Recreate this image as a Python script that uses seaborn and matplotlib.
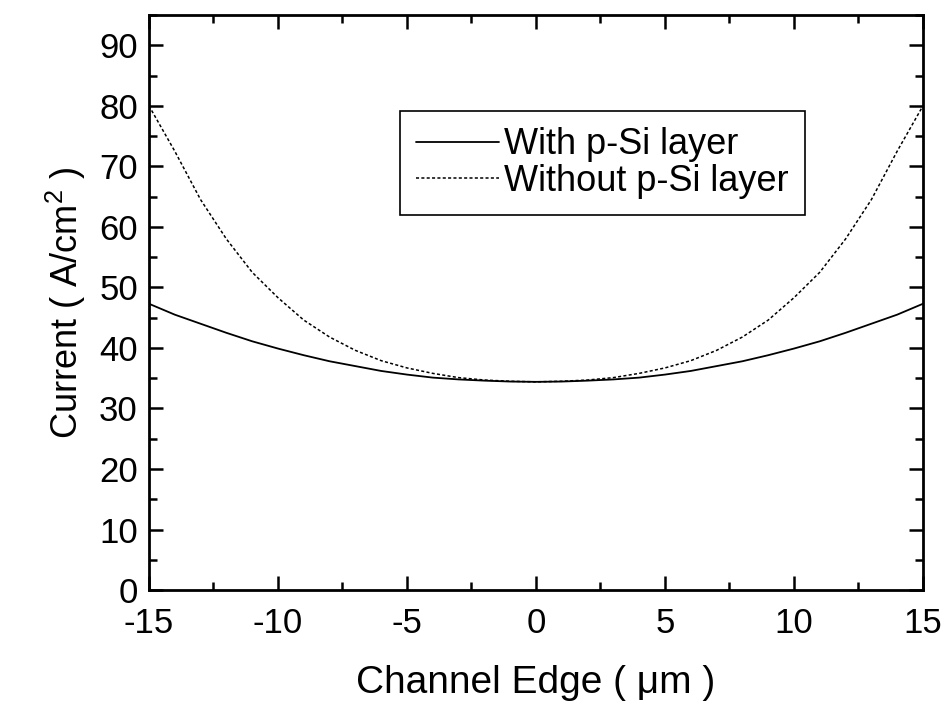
#Recreating the channel-edge current profile plot
import numpy as np
import pandas as pd
import matplotlib
matplotlib.use("Agg")
import matplotlib.pyplot as plt
from matplotlib.ticker import MultipleLocator
import seaborn as sns

#Values
position = [-15, -14, -13, -12, -11, -10, -9, -8, -7, -6, -5, -4, -3, -2, -1, 0,
            1, 2, 3, 4, 5, 6, 7, 8, 9, 10, 11, 12, 13, 14, 15]
with_psi = [47.3, 45.5, 44.0, 42.5, 41.1, 39.9, 38.8, 37.8, 37.0, 36.2, 35.6, 35.1, 34.8, 34.6, 34.45, 34.4,
            34.45, 34.6, 34.8, 35.1, 35.6, 36.2, 37.0, 37.8, 38.8, 39.9, 41.1, 42.5, 44.0, 45.5, 47.3]
without_psi = [80.0, 72.5, 64.5, 58.0, 52.5, 48.3, 44.6, 41.8, 39.6, 37.9, 36.7, 35.8, 35.1, 34.7, 34.5, 34.4,
               34.5, 34.7, 35.1, 35.8, 36.7, 37.9, 39.6, 41.8, 44.6, 48.3, 52.5, 58.0, 64.5, 72.5, 80.0]
labels = ["With p-Si layer", "Without p-Si layer"]

sns.set_theme(style="ticks")
plt.rcParams['font.family'] = ['Liberation Sans', 'DejaVu Sans']
plt.rcParams['mathtext.fontset'] = 'custom'
plt.rcParams['mathtext.rm'] = 'Liberation Sans'
plt.rcParams['axes.unicode_minus'] = False
plt.rcParams['text.color'] = 'black'
plt.rcParams['axes.labelcolor'] = 'black'

fig = plt.figure(figsize=(9.52, 7.05), dpi=100)
ax = fig.add_axes([0.1565, 0.163, 0.813, 0.8157])

sns.lineplot(x=position, y=with_psi, ax=ax, color="black", linewidth=1.3, label=labels[0])
sns.lineplot(x=position, y=without_psi, ax=ax, color="black", linewidth=1.1,
             linestyle=(0, (2, 1.5)), label=labels[1])

ax.set_xlim(-15, 15)
ax.set_ylim(0, 95)
ax.xaxis.set_major_locator(MultipleLocator(5))
ax.xaxis.set_minor_locator(MultipleLocator(2.5))
ax.yaxis.set_major_locator(MultipleLocator(10))
ax.yaxis.set_minor_locator(MultipleLocator(5))
ax.tick_params(which="both", direction="in", top=True, right=True, width=1.8,
               labelsize=25, colors="black")
ax.tick_params(axis="x", which="major", pad=12)
ax.tick_params(axis="y", which="major", pad=8)
ax.tick_params(which="major", length=10)
ax.tick_params(which="minor", length=6)
for s in ax.spines.values():
    s.set_linewidth(2)
    s.set_color("black")

ax.set_xlabel("Channel Edge ( \u03bcm )", fontsize=28, labelpad=18)
ax.set_ylabel("Current ( A/cm$^2$ )", fontsize=26, labelpad=8)

ax.legend(loc="upper left", bbox_to_anchor=(0.324, 0.833), borderaxespad=0,
          fancybox=False, edgecolor="black", framealpha=1, fontsize=26,
          handlelength=2.3, handletextpad=0.15, borderpad=0.45, labelspacing=0.05)
ax.get_legend().get_frame().set_linewidth(1.2)

plt.savefig("out.png", dpi=100)
